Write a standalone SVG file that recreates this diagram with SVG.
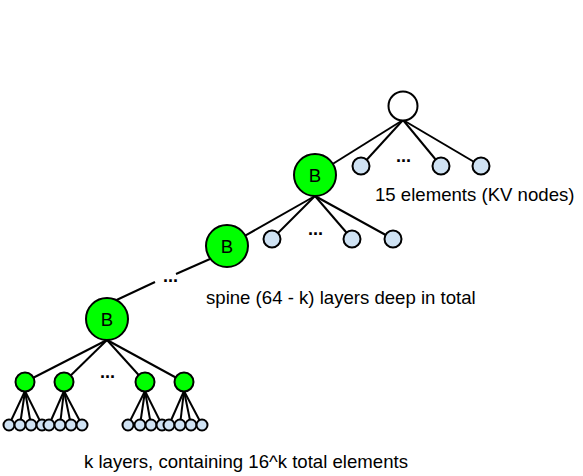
<svg xmlns="http://www.w3.org/2000/svg" width="583" height="476" viewBox="0 0 583 476">
<style>
.e{stroke:#000;stroke-width:2;fill:none}
.n{stroke:#000;stroke-width:2}
.g{fill:#00ff00}
.w{fill:#ffffff}
.b{fill:#cfe2f3}
.t{font-family:"Liberation Sans",Arial,sans-serif;font-size:18.6px;fill:#000}
.d{font-family:"Liberation Sans",Arial,sans-serif;font-size:18px;font-weight:bold;fill:#000}
.bl{font-family:"Liberation Sans",Arial,sans-serif;font-size:18.6px;fill:#000;text-anchor:middle}
</style>
<rect width="583" height="476" fill="#fff"/>
<g id="connectors" class="e">
<line x1="403" y1="120" x2="315" y2="175"/>
<line x1="403" y1="120" x2="361" y2="166"/>
<line x1="403" y1="120" x2="441" y2="166"/>
<line x1="403" y1="120" x2="481" y2="166"/>
<line x1="315" y1="196" x2="227" y2="246"/>
<line x1="315" y1="196" x2="272" y2="239"/>
<line x1="315" y1="196" x2="352" y2="239"/>
<line x1="315" y1="196" x2="393" y2="239"/>
<line x1="210" y1="259" x2="176" y2="274"/>
<line x1="155" y1="282" x2="108" y2="304"/>
<line x1="107" y1="340" x2="25" y2="382"/>
<line x1="107" y1="340" x2="64" y2="382"/>
<line x1="107" y1="340" x2="145" y2="382"/>
<line x1="107" y1="340" x2="184" y2="382"/>
<line x1="25" y1="391" x2="9" y2="425"/>
<line x1="25" y1="391" x2="20" y2="425"/>
<line x1="25" y1="391" x2="31" y2="425"/>
<line x1="25" y1="391" x2="42" y2="425"/>
<line x1="64" y1="391" x2="49" y2="425"/>
<line x1="64" y1="391" x2="60" y2="425"/>
<line x1="64" y1="391" x2="71" y2="425"/>
<line x1="64" y1="391" x2="82" y2="425"/>
<line x1="145" y1="391" x2="128" y2="425"/>
<line x1="145" y1="391" x2="140" y2="425"/>
<line x1="145" y1="391" x2="151" y2="425"/>
<line x1="145" y1="391" x2="162" y2="425"/>
<line x1="184" y1="391" x2="169" y2="425"/>
<line x1="184" y1="391" x2="180" y2="425"/>
<line x1="184" y1="391" x2="191" y2="425"/>
<line x1="184" y1="391" x2="202" y2="425"/>
</g>
<g id="root"><circle class="n w" cx="403" cy="106" r="14.5"/></g>
<g id="kv1"><circle class="n b" cx="361" cy="166" r="8.5"/></g>
<g id="kv2"><circle class="n b" cx="441" cy="166" r="8.5"/></g>
<g id="kv3"><circle class="n b" cx="481" cy="166" r="8.5"/></g>
<g id="dots1"><text class="d" x="396" y="162">...</text></g>
<g id="B1"><circle class="n g" cx="315" cy="175" r="21"/><text class="bl" x="315" y="182">B</text></g>
<g id="kv4"><circle class="n b" cx="272" cy="239" r="8.5"/></g>
<g id="kv5"><circle class="n b" cx="352" cy="239" r="8.5"/></g>
<g id="kv6"><circle class="n b" cx="393" cy="239" r="8.5"/></g>
<g id="dots2"><text class="d" x="308" y="235">...</text></g>
<g id="B2"><circle class="n g" cx="227" cy="246" r="21"/><text class="bl" x="227" y="253">B</text></g>
<g id="dots3"><text class="d" x="163" y="282">...</text></g>
<g id="B3"><circle class="n g" cx="107" cy="319" r="21"/><text class="bl" x="107" y="326">B</text></g>
<g id="g1"><circle class="n g" cx="25" cy="382" r="9.5"/></g>
<g id="g2"><circle class="n g" cx="64" cy="382" r="9.5"/></g>
<g id="g3"><circle class="n g" cx="145" cy="382" r="9.5"/></g>
<g id="g4"><circle class="n g" cx="184" cy="382" r="9.5"/></g>
<g id="dots4"><text class="d" x="100" y="378">...</text></g>
<g id="leaves" class="n b">
<circle cx="9" cy="425" r="5.5"/><circle cx="20" cy="425" r="5.5"/><circle cx="31" cy="425" r="5.5"/><circle cx="42" cy="425" r="5.5"/>
<circle cx="49" cy="425" r="5.5"/><circle cx="60" cy="425" r="5.5"/><circle cx="71" cy="425" r="5.5"/><circle cx="82" cy="425" r="5.5"/>
<circle cx="128" cy="425" r="5.5"/><circle cx="140" cy="425" r="5.5"/><circle cx="151" cy="425" r="5.5"/><circle cx="162" cy="425" r="5.5"/>
<circle cx="169" cy="425" r="5.5"/><circle cx="180" cy="425" r="5.5"/><circle cx="191" cy="425" r="5.5"/><circle cx="202" cy="425" r="5.5"/>
</g>
<g id="labels">
<text class="t" x="375" y="201">15 elements (KV nodes)</text>
<text class="t" x="206" y="304">spine (64 - k) layers deep in total</text>
<text class="t" x="84" y="468">k layers, containing 16^k total elements</text>
</g>
</svg>
